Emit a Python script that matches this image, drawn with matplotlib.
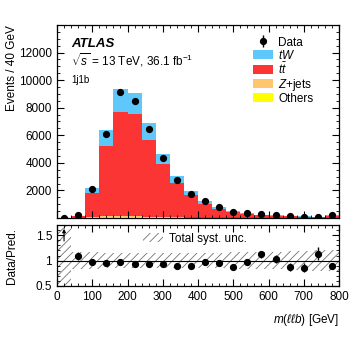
import numpy as np
import matplotlib
matplotlib.use("Agg")
import matplotlib.pyplot as plt
from matplotlib.patches import Patch
from matplotlib.ticker import MultipleLocator, FixedLocator, FixedFormatter

plt.rcParams['font.family'] = ['Liberation Sans', 'DejaVu Sans']
plt.rcParams['mathtext.fontset'] = 'custom'
plt.rcParams['mathtext.rm'] = 'Liberation Sans'
plt.rcParams['mathtext.it'] = 'Liberation Sans:italic'
plt.rcParams['mathtext.bf'] = 'Liberation Sans:bold'
plt.rcParams['hatch.linewidth'] = 0.6
plt.rcParams['font.size'] = 8.5

# m(llb) bins, 40 GeV wide
edges = np.arange(0, 840, 40)
centers = edges[:-1] + 20

others = [3, 8, 40, 70, 80, 75, 60, 45, 35, 25, 18, 12, 8, 6, 4, 3, 3, 2, 1, 4]
zjets = [2, 10, 20, 40, 45, 40, 30, 25, 15, 10, 7, 5, 4, 3, 2, 2, 1, 1, 1, 2]
ttbar = [2, 130, 1740, 5100, 7555, 7425, 5600, 3830, 2520, 1615, 993, 638,
         408, 286, 189, 145, 111, 82, 49, 169]
tw = [1, 25, 400, 1140, 1700, 1550, 1190, 750, 510, 310, 242, 165, 120, 85,
      55, 45, 35, 25, 15, 50]
data = [20, 187, 2134, 6064, 9146, 8499, 6433, 4325, 2741, 1764, 1229, 783,
        470, 371, 280, 201, 132, 95, 75, 200]
syst_unc = [1.0, 0.17, 0.16, 0.15, 0.15, 0.15, 0.15, 0.15, 0.15, 0.15, 0.15,
            0.15, 0.16, 0.16, 0.17, 0.17, 0.18, 0.19, 0.2, 0.21]

others = np.array(others, float)
zjets = np.array(zjets, float)
ttbar = np.array(ttbar, float)
tw = np.array(tw, float)
data = np.array(data, float)
syst_unc = np.array(syst_unc)
pred = others + zjets + ttbar + tw

c_tw = '#5fc8fa'
c_tt = '#fb3434'
c_z = '#ffc66e'
c_oth = '#ffff00'

fig = plt.figure(figsize=(3.57, 3.48), dpi=100)
ax = fig.add_axes([57/357, 1-218/348, 282/357, 193/348])
rax = fig.add_axes([57/357, 1-286/348, 282/357, 61/348])

# stacked prediction
bottom = np.zeros(len(centers))
for vals, col in [(others, c_oth), (zjets, c_z), (ttbar, c_tt), (tw, c_tw)]:
    ax.stairs(bottom + vals, edges, baseline=bottom, fill=True, color=col, linewidth=0)
    bottom = bottom + vals

derr = ax.errorbar(centers, data, yerr=np.sqrt(data), fmt='o', color='black',
                   ms=4.2, elinewidth=1, capsize=0)

ax.set_xlim(0, 800)
ax.set_ylim(0, 14000)
ax.set_yticks(np.arange(2000, 14000, 2000))
ax.yaxis.set_minor_locator(MultipleLocator(500))
ax.xaxis.set_major_locator(MultipleLocator(100))
ax.xaxis.set_minor_locator(MultipleLocator(20))
ax.tick_params(labelbottom=False)
ax.set_ylabel('Events / 40 GeV', loc='top')
ax.yaxis.set_label_coords(-0.14, 1.0)

ax.text(0.05, 0.9, 'ATLAS', transform=ax.transAxes, fontsize=9.5,
        fontweight='bold', fontstyle='italic', va='center')
ax.text(0.05, 0.82, r'$\sqrt{s}$ = 13 TeV, 36.1 fb$^{-1}$', transform=ax.transAxes,
        fontsize=8.5, va='center')
ax.text(0.05, 0.715, '1j1b', transform=ax.transAxes, fontsize=7, va='center')

handles = [derr,
           Patch(facecolor=c_tw, linewidth=0),
           Patch(facecolor=c_tt, linewidth=0),
           Patch(facecolor=c_z, linewidth=0),
           Patch(facecolor=c_oth, linewidth=0)]
labels = ['Data', r'$tW$', r'$t\bar{t}$', r'$Z$+jets', 'Others']
ax.legend(handles, labels, loc='upper left', bbox_to_anchor=(0.695, 0.94),
          frameon=False, borderpad=0, borderaxespad=0, handlelength=1.7,
          handleheight=0.8, handletextpad=0.45, labelspacing=0.0, fontsize=8.5)

# ratio panel
ratio = data / pred
rerr = np.sqrt(data) / pred
hi = np.append(1 + syst_unc, 1 + syst_unc[-1])
lo = np.append(1 - syst_unc, 1 - syst_unc[-1])
rax.fill_between(edges, lo, hi, step='post', facecolor='none', edgecolor='0.45',
                 hatch='////', linewidth=0)
rax.axhline(1, color='black', lw=0.8)
inside = ratio < 1.7
rax.errorbar(centers[inside], ratio[inside], yerr=rerr[inside], fmt='o', color='black',
             ms=4.2, elinewidth=1, capsize=0)
for xc in centers[~inside]:
    rax.annotate('', xy=(xc, 1.68), xytext=(xc, 1.33),
                 arrowprops=dict(arrowstyle='-|>', lw=0.8, color='black',
                                 mutation_scale=5))

rax.legend([Patch(facecolor='none', edgecolor='0.45', hatch='////', linewidth=0)],
           ['Total syst. unc.'], loc='upper center', bbox_to_anchor=(0.49, 0.97),
           frameon=False, borderpad=0, handlelength=1.7, handletextpad=0.5, fontsize=8.5)

rax.set_xlim(0, 800)
rax.set_ylim(0.5, 1.7)
rax.yaxis.set_major_locator(FixedLocator([0.5, 1.0, 1.5]))
rax.yaxis.set_major_formatter(FixedFormatter(['0.5', '1', '1.5']))
rax.yaxis.set_minor_locator(MultipleLocator(0.1))
rax.xaxis.set_major_locator(MultipleLocator(100))
rax.xaxis.set_minor_locator(MultipleLocator(20))
rax.set_ylabel('Data/Pred.')
rax.yaxis.set_label_coords(-0.14, 0.5)
rax.set_xlabel(r'$m(\ell\ell b)$ [GeV]', loc='right')
rax.xaxis.set_label_coords(1.0, -0.42)

for a in (ax, rax):
    a.tick_params(which='both', direction='in', top=True, right=True, labelsize=8.5)
    a.tick_params(which='major', length=5, width=0.8)
    a.tick_params(which='minor', length=2.5, width=0.6)
    for s in a.spines.values():
        s.set_linewidth(0.9)

fig.savefig('out.png', dpi=100)
